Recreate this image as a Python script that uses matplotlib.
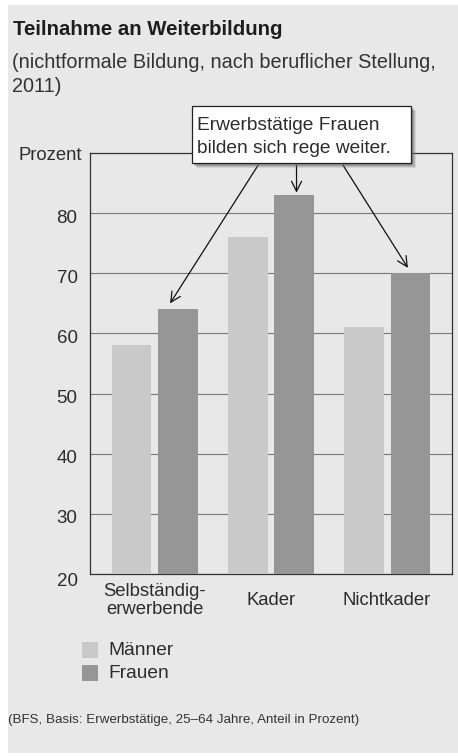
import matplotlib.pyplot as plt
from matplotlib.patches import Rectangle
import matplotlib.transforms as mtransforms
import numpy as np

plt.rcParams['font.family'] = ['Liberation Sans', 'DejaVu Sans']

categories = ["Selbständig-\nerwerbende", "Kader", "Nichtkader"]
series_names = ["Männer", "Frauen"]
maenner = [58, 76, 61]
frauen = [64, 83, 70]
yticks = [20, 30, 40, 50, 60, 70, 80]

BG = "#e8e8e8"
C_M = "#c9c9c9"
C_F = "#969696"
TXT = "#2c2c2c"

W, H = 458, 756
fig = plt.figure(figsize=(W / 100, H / 100), dpi=100)
fig.patch.set_facecolor("white")


def fx(px):
    return px / W


def fy(py):
    return 1 - py / H


# grey panel behind everything
fig.patches.append(Rectangle((fx(8), fy(753)), 1 - fx(8), (753 - 5) / H,
                             transform=fig.transFigure, facecolor=BG,
                             edgecolor="none", zorder=-10))

fig.text(fx(13), fy(35), "Teilnahme an Weiterbildung", fontsize=14.7,
         fontweight="bold", color="#1e1e1e", va="baseline")
fig.text(fx(12), fy(68), "(nichtformale Bildung, nach beruflicher Stellung,",
         fontsize=14.3, color="#333333", va="baseline")
fig.text(fx(12), fy(92), "2011)", fontsize=14.3, color="#333333", va="baseline")

ax_l, ax_r, ax_t, ax_b = 90, 452, 153, 574
ax = fig.add_axes([fx(ax_l), fy(ax_b), (ax_r - ax_l) / W, (ax_b - ax_t) / H])
ax.set_facecolor(BG)

x = np.arange(len(categories))
bw = 0.34
ax.bar(x - 0.2, maenner, bw, color=C_M, zorder=3, label=series_names[0])
ax.bar(x + 0.2, frauen, bw, color=C_F, zorder=3, label=series_names[1])

ax.set_ylim(20, 90)
ax.set_xlim(-0.56, 2.56)
ax.set_yticks(yticks)
ax.set_yticklabels([str(v) for v in yticks], fontsize=13.5, color=TXT)
ax.set_xticks(x)
ax.set_xticklabels(categories, fontsize=13.3, color=TXT, linespacing=1.1,
                   va="center")
ax.tick_params(length=0)
ax.tick_params(axis="y", pad=9)
ax.tick_params(axis="x", pad=19)
ax.grid(axis="y", color="#7a7a7a", linewidth=0.8, zorder=1)
for s in ax.spines.values():
    s.set_color("#333333")
    s.set_linewidth(0.9)

# y labels sit slightly below their gridlines
for lab, v in zip(ax.get_yticklabels(), yticks):
    dy = -6 if v == 20 else -3
    lab.set_transform(lab.get_transform() +
                      mtransforms.ScaledTranslation(0, dy / 100, fig.dpi_scale_trans))

fig.text(fx(18), fy(160), "Prozent", fontsize=13.3, color=TXT, va="baseline")

# callout box with soft shadow
bx0, bx1, by0, by1 = 192, 411, 106, 163
for off, a in [(5, 0.18), (4, 0.25), (3, 0.35), (2, 0.45)]:
    fig.patches.append(Rectangle((fx(bx0 + off), fy(by1 + off)), (bx1 - bx0) / W,
                                 (by1 - by0) / H, transform=fig.transFigure,
                                 facecolor="#707070", edgecolor="none",
                                 alpha=a, zorder=20))
fig.patches.append(Rectangle((fx(bx0), fy(by1)), (bx1 - bx0) / W, (by1 - by0) / H,
                             transform=fig.transFigure, facecolor="white",
                             edgecolor="#222222", linewidth=0.9, zorder=21))
fig.text(fx(197), fy(130), "Erwerbstätige Frauen", fontsize=13.8, color=TXT,
         va="baseline", zorder=22)
fig.text(fx(197), fy(153), "bilden sich rege weiter.", fontsize=13.8, color=TXT,
         va="baseline", zorder=22)

arrow_kw = dict(arrowstyle="->", color="#111111", lw=0.9,
                mutation_scale=18, shrinkA=0, shrinkB=0)
for (x0, y0), (x1, y1) in [((0.89, 88.0), (0.13, 65.0)),
                           ((1.22, 88.0), (1.22, 83.4)),
                           ((1.62, 88.0), (2.18, 70.9))]:
    ax.annotate("", xy=(x1, y1), xytext=(x0, y0),
                arrowprops=arrow_kw, zorder=10, annotation_clip=False)

# legend
for i, (name, col) in enumerate(zip(series_names, [C_M, C_F])):
    yc = 650 + i * 23
    fig.patches.append(Rectangle((fx(82), fy(yc + 8)), 16 / W, 16 / H,
                                 transform=fig.transFigure, facecolor=col,
                                 edgecolor="none"))
    fig.text(fx(108), fy(yc + 5), name, fontsize=13.8, color=TXT, va="baseline")

fig.text(fx(8), fy(720), "(BFS, Basis: Erwerbstätige, 25–64 Jahre, Anteil in Prozent)",
         fontsize=9.6, color="#333333", va="center")

fig.savefig("out.png", dpi=100, facecolor=fig.get_facecolor())
